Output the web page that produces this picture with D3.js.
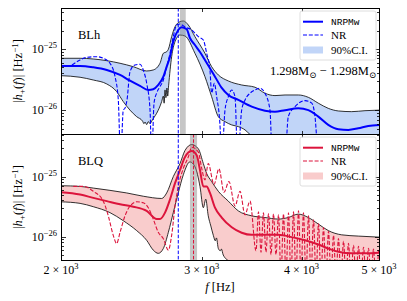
<!DOCTYPE html>
<html>
<head>
<meta charset="utf-8">
<script src="https://cdn.jsdelivr.net/npm/d3@7"></script>
<style>
  body { margin: 0; background: #fff; }
  svg { display: block; }
  text { font-family: "Liberation Serif", "DejaVu Serif", serif; fill: #000; }
</style>
</head>
<body>
<svg id="chart" width="407" height="301"></svg>
<script>
// amplitudes below are in units of 1e-26 Hz^-1, frequencies in Hz
const UNIT = 1e-26;

const xTicks = [2000, 3000, 4000, 5000];
const xTickLabels = ['2', '3', '4', '5'];
const yMajorTicks = [1e-26, 1e-25];
const yMajorLabels = ['\u221226', '\u221225'];

// BLh
const blhMedian = [[2000,5.28],[2113,5.28],[2195,5.02],[2282,4.54],[2371,3.76],[2440,3.03],[2511,2.49],[2572,2.14],[2609,2.20],[2647,2.58],[2686,3.53],[2712,5.14],[2738,7.48],[2764,13.2],[2804,20.4],[2832,22.6],[2873,21.0],[2900,15.1],[2942,11.6],[2985,8.93],[3028,6.61],[3117,3.53],[3178,2.31],[3239,1.77],[3334,1.47],[3465,1.14],[3600,0.98],[3705,0.945],[3814,1.0],[3963,1.07],[4079,1.0],[4198,0.783],[4320,0.573],[4447,0.487],[4577,0.475],[4710,0.506],[4848,0.552],[5000,0.573]];
const blhUpper = [[2000,7.05],[2113,7.05],[2195,6.86],[2282,6.44],[2371,5.84],[2463,5.14],[2560,4.37],[2609,4.54],[2660,5.84],[2686,8.51],[2712,9.03],[2725,9.89],[2751,15.9],[2778,23.1],[2818,27.9],[2845,28.7],[2886,24.7],[2942,15.9],[3028,8.51],[3087,5.14],[3147,3.76],[3239,3.00],[3366,2.58],[3498,2.37],[3600,1.89],[3705,1.73],[3814,1.77],[3963,1.77],[4079,1.62],[4198,1.30],[4320,1.07],[4447,0.97],[4622,0.945],[4802,0.98],[5000,1.0]];
const blhLower = [[2000,3.66],[2113,3.45],[2195,3.11],[2282,2.68],[2348,2.01],[2393,1.38],[2440,1.0],[2487,0.783],[2530,0.66],[2540,0.60],[2548,0.64],[2560,0.58],[2572,0.65],[2585,0.60],[2597,0.66],[2615,0.76],[2635,0.89],[2673,1.38],[2686,1.7],[2692,1.3],[2699,2.14],[2706,1.6],[2714,2.3],[2720,1.7],[2727,2.5],[2751,7.48],[2778,13.2],[2818,16.9],[2859,16.3],[2942,8.51],[3028,3.53],[3087,1.66],[3147,0.783],[3208,0.649],[3271,0.573],[3334,0.538],[3399,0.475],[3448,0.40],[3549,0.33],[4000,0.3],[5000,0.3]];
const blhNR = [[2064,5.48],[2113,6.61],[2154,7.32],[2217,7.48],[2259,7.05],[2303,5.84],[2337,3.53],[2359,1.47],[2375,0.15],[2393,1.0],[2405,1.08],[2419,1.47],[2440,4.26],[2475,5.48],[2511,5.62],[2535,4.54],[2560,2.75],[2585,1.0],[2597,0.15],[2615,1.31],[2635,1.91],[2660,2.42],[2686,3.11],[2712,5.14],[2738,8.51],[2764,15.9],[2791,24.7],[2818,25.6],[2859,22.9],[2915,20.4],[2971,15.9],[3014,14.0],[3043,8.51],[3072,4.54],[3087,1.91],[3111,2.75],[3132,1.66],[3162,0.573],[3178,0.15],[3208,1.0],[3239,1.66],[3271,2.14],[3302,1.66],[3328,0.15],[3366,1.0],[3399,1.47],[3448,1.89],[3498,2.14],[3549,2.28],[3600,1.89],[3652,1.0],[3677,0.15],[3760,0.1],[3814,0.15],[3850,0.783],[3925,1.14],[4040,1.43],[4119,1.30],[4158,0.783],[4198,0.15],[4230,0.1]];
const blhBand = [2818, 2865];

// BLQ
const blqMedian = [[2000,5.48],[2113,5.02],[2195,4.42],[2282,3.90],[2371,3.45],[2463,3.15],[2560,2.68],[2635,1.96],[2660,1.96],[2699,2.51],[2738,4.16],[2778,7.77],[2818,12.9],[2859,21.2],[2915,26.6],[2957,22.6],[2985,12.9],[3014,6.86],[3043,6.86],[3072,5.34],[3117,3.03],[3178,2.08],[3271,1.43],[3366,1.16],[3465,1.07],[3600,1.07],[3741,1.07],[3888,0.98],[4040,0.867],[4198,0.737],[4320,0.634],[4447,0.558],[4622,0.526],[4802,0.526],[5000,0.538]];
const blqUpper = [[2000,7.05],[2113,6.86],[2195,6.44],[2303,5.90],[2417,5.34],[2535,4.71],[2673,4.32],[2712,5.34],[2764,10.0],[2818,16.5],[2859,27.3],[2915,34.2],[2971,29.0],[3014,16.5],[3043,11.3],[3087,8.28],[3147,5.69],[3239,3.90],[3334,2.68],[3465,2.22],[3600,2.08],[3741,1.96],[3850,2.08],[3963,2.37],[4079,2.08],[4198,1.62],[4320,1.26],[4490,1.07],[4710,1.02],[5000,0.98]];
const blqLower = [[2000,3.80],[2113,3.58],[2195,3.15],[2303,2.51],[2393,1.84],[2487,1.26],[2560,0.867],[2609,0.595],[2647,0.526],[2686,0.634],[2725,1.18],[2764,2.51],[2804,5.34],[2845,10.7],[2900,17.6],[2942,14.6],[2985,6.86],[3014,3.03],[3035,4.21],[3057,2.22],[3080,1.5],[3102,1.05],[3120,0.85],[3130,0.95],[3147,0.634],[3165,0.58],[3175,0.62],[3192,0.493],[3255,0.38],[3400,0.3],[5000,0.3]];
const blqNR = [[2072,6.86],[2133,6.86],[2195,5.69],[2259,3.90],[2292,2.22],[2325,1.05],[2348,0.766],[2371,1.18],[2405,2.22],[2440,3.23],[2487,3.80],[2535,3.66],[2572,3.03],[2609,1.96],[2647,1.18],[2686,0.924],[2725,0.595],[2751,1.05],[2778,3.23],[2804,6.86],[2845,13.7],[2886,21.2],[2915,30.9],[2971,25.6],[3000,13.7],[3028,8.83],[3057,16.5],[3108,7.40],[3153,13.5],[3199,5.48],[3245,8.28],[3302,3.23],[3350,5.69],[3398,2.31],[3448,3.90],
  [3508,0.58],[3533,2.58],[3559,0.55],[3584,2.49],[3610,0.55],[3637,2.39],[3663,0.5],[3689,2.39],[3716,0.5],[3743,2.31],
  [3770,0.2],[3797,2.39],[3825,0.2],[3852,2.49],[3880,0.2],[3908,2.58],[3936,0.2],[3965,2.68],[3994,0.2],[4022,2.49],
  [4051,0.2],[4081,2.22],[4110,0.2],[4140,1.91],[4170,0.2],[4200,1.64],[4230,0.2],[4261,1.41],[4292,0.2],[4323,1.22],
  [4354,0.2],[4386,1.05],[4417,0.2],[4449,0.93],[4481,0.2],[4514,0.835],[4546,0.2],[4579,0.774],[4612,0.2],[4646,0.718],
  [4679,0.2],[4713,0.692],[4747,0.2],[4782,0.666],[4816,0.2],[4851,0.641],[4886,0.2],[4921,0.618],[4957,0.2],[4993,0.595]];
const blqBand = [2900, 2960];

const fMergerBLh = 2804;
const fMergerBLQ = 2930;

const panels = [
  { key: 'blh', label: 'BLh', top: 8, bottom: 134, yDomain: [Math.pow(10, -26.39), Math.pow(10, -24.33)],
    median: blhMedian, upper: blhUpper, lower: blhLower, nr: blhNR, band: blhBand,
    color: 'blue', fill: '#6495ed', fillOpacity: 0.4,
    vlines: [{ f: fMergerBLh, color: 'blue' }] },
  { key: 'blq', label: 'BLQ', top: 134, bottom: 260, yDomain: [Math.pow(10, -26.39), Math.pow(10, -24.29)],
    median: blqMedian, upper: blqUpper, lower: blqLower, nr: blqNR, band: blqBand,
    color: '#dc143c', fill: '#f08080', fillOpacity: 0.4,
    vlines: [{ f: fMergerBLh, color: 'blue' }, { f: fMergerBLQ, color: '#dc143c' }] }
];

const left = 61, right = 379;
const svg = d3.select('#chart');
const x = d3.scaleLog().domain([2000, 5000]).range([left, right]);

panels.forEach(function(p) {
  const y = d3.scaleLog().domain(p.yDomain).range([p.bottom, p.top]);
  const line = d3.line()
    .x(d => x(d[0]))
    .y(d => y(d[1] * UNIT))
    .curve(d3.curveMonotoneX);

  svg.append('clipPath').attr('id', 'clip-' + p.key)
    .append('rect')
    .attr('x', left).attr('y', p.top)
    .attr('width', right - left).attr('height', p.bottom - p.top);

  const plot = svg.append('g').attr('clip-path', 'url(#clip-' + p.key + ')');

  // 90% C.I. band
  const up = line(p.upper);
  const lo = line(p.lower.slice().reverse());
  plot.append('path')
    .attr('d', up + 'L' + lo.slice(1) + 'Z')
    .attr('fill', p.fill)
    .attr('fill-opacity', p.fillOpacity);

  [p.upper, p.lower].forEach(function(b) {
    plot.append('path')
      .attr('d', line(b))
      .attr('fill', 'none')
      .attr('stroke', '#000')
      .attr('stroke-width', 0.8);
  });

  // posterior of the merger frequency
  plot.append('rect')
    .attr('x', x(p.band[0])).attr('y', p.top)
    .attr('width', x(p.band[1]) - x(p.band[0])).attr('height', p.bottom - p.top)
    .attr('fill', '#808080').attr('fill-opacity', 0.45);

  plot.append('path')
    .attr('d', line(p.nr))
    .attr('fill', 'none')
    .attr('stroke', p.color)
    .attr('stroke-width', 1.1)
    .attr('stroke-dasharray', '4,1.8');

  plot.append('path')
    .attr('d', line(p.median))
    .attr('fill', 'none')
    .attr('stroke', p.color)
    .attr('stroke-width', 2);

  p.vlines.forEach(function(v) {
    plot.append('line')
      .attr('x1', x(v.f)).attr('x2', x(v.f))
      .attr('y1', p.top).attr('y2', p.bottom)
      .attr('stroke', v.color)
      .attr('stroke-width', 1)
      .attr('stroke-dasharray', '3.5,1.8');
  });

  // frame and ticks
  const axes = svg.append('g').attr('shape-rendering', 'crispEdges');
  axes.append('rect')
    .attr('x', left).attr('y', p.top)
    .attr('width', right - left).attr('height', p.bottom - p.top)
    .attr('fill', 'none').attr('stroke', '#000').attr('stroke-width', 1);

  const yAll = y.ticks(20).filter(t => t >= p.yDomain[0] && t <= p.yDomain[1]);
  yAll.forEach(function(t) {
    const major = yMajorTicks.some(m => Math.abs(m / t - 1) < 1e-6);
    const len = major ? 4.5 : 2.5;
    const yy = Math.round(y(t)) + 0.5;
    axes.append('line').attr('x1', left).attr('x2', left + len).attr('y1', yy).attr('y2', yy)
      .attr('stroke', '#000').attr('stroke-width', 0.8);
    axes.append('line').attr('x1', right).attr('x2', right - len).attr('y1', yy).attr('y2', yy)
      .attr('stroke', '#000').attr('stroke-width', 0.8);
  });

  xTicks.forEach(function(t) {
    const xx = Math.round(x(t)) + 0.5;
    axes.append('line').attr('x1', xx).attr('x2', xx).attr('y1', p.top).attr('y2', p.top + 3.5)
      .attr('stroke', '#000').attr('stroke-width', 0.8);
    axes.append('line').attr('x1', xx).attr('x2', xx).attr('y1', p.bottom).attr('y2', p.bottom - 3.5)
      .attr('stroke', '#000').attr('stroke-width', 0.8);
  });

  yMajorTicks.forEach(function(t, i) {
    const tx = svg.append('text')
      .attr('x', 57).attr('y', y(t) + 4)
      .attr('text-anchor', 'end')
      .attr('font-size', 12);
    tx.append('tspan').text('10');
    tx.append('tspan').attr('dy', -5).attr('font-size', 8.5).text(yMajorLabels[i]);
  });

  // y label
  const cy = (p.top + p.bottom) / 2;
  const yl = svg.append('text')
    .attr('transform', 'translate(22,' + cy + ') rotate(-90)')
    .attr('text-anchor', 'middle')
    .attr('font-size', 12.5);
  yl.append('tspan').text('|');
  yl.append('tspan').attr('font-style', 'italic').text('h');
  yl.append('tspan').attr('dy', 2.5).attr('font-size', 9).text('+');
  yl.append('tspan').attr('dy', -2.5).text('(');
  yl.append('tspan').attr('font-style', 'italic').text('f');
  yl.append('tspan').text(')| [Hz');
  yl.append('tspan').attr('dy', -4.5).attr('font-size', 9).text('\u22121');
  yl.append('tspan').attr('dy', 4.5).text(']');

  svg.append('text')
    .attr('x', 78).attr('y', p.top + 31)
    .attr('font-size', 12.5)
    .text(p.label);

  // legend
  const lg = svg.append('g').attr('transform', 'translate(300,' + (p.top + 3) + ')');
  lg.append('rect')
    .attr('width', 76).attr('height', 49).attr('rx', 2)
    .attr('fill', '#fff').attr('fill-opacity', 0.8)
    .attr('stroke', '#d6d6d6').attr('stroke-width', 0.8);
  lg.append('line').attr('x1', 3).attr('x2', 23).attr('y1', 10.7).attr('y2', 10.7)
    .attr('stroke', p.color).attr('stroke-width', 2);
  lg.append('line').attr('x1', 3).attr('x2', 23).attr('y1', 24).attr('y2', 24)
    .attr('stroke', p.color).attr('stroke-width', 1.1).attr('stroke-dasharray', '4,1.8');
  lg.append('rect').attr('x', 3).attr('y', 35.5).attr('width', 20).attr('height', 7)
    .attr('fill', p.fill).attr('fill-opacity', p.fillOpacity);
  lg.append('text').attr('x', 31).attr('y', 14)
    .style('font-family', '"Liberation Mono", "DejaVu Sans Mono", monospace')
    .attr('font-size', 9.5).text('NRPMw');
  lg.append('text').attr('x', 31).attr('y', 28)
    .attr('font-size', 11).text('NR');
  lg.append('text').attr('x', 31).attr('y', 43)
    .attr('font-size', 11).text('90%C.I.');
});

// binary masses
const mt = svg.append('text')
  .attr('x', 376).attr('y', 75)
  .attr('text-anchor', 'end')
  .attr('font-size', 12.5);
mt.append('tspan').text('1.298M');
mt.append('tspan').attr('dy', 2.5).attr('font-size', 8.5).text('\u2299');
mt.append('tspan').attr('dy', -2.5).text(' \u2212 1.298M');
mt.append('tspan').attr('dy', 2.5).attr('font-size', 8.5).text('\u2299');

// x tick labels and label
xTicks.forEach(function(t, i) {
  const tx = svg.append('text')
    .attr('x', x(t)).attr('y', 274)
    .attr('text-anchor', 'middle')
    .attr('font-size', 12);
  tx.append('tspan').text(xTickLabels[i] + ' \u00d7 10');
  tx.append('tspan').attr('dy', -5).attr('font-size', 8.5).text('3');
});

const xl = svg.append('text')
  .attr('x', 220).attr('y', 291)
  .attr('text-anchor', 'middle')
  .attr('font-size', 12.5);
xl.append('tspan').attr('font-style', 'italic').text('f');
xl.append('tspan').text(' [Hz]');
</script>
</body>
</html>
